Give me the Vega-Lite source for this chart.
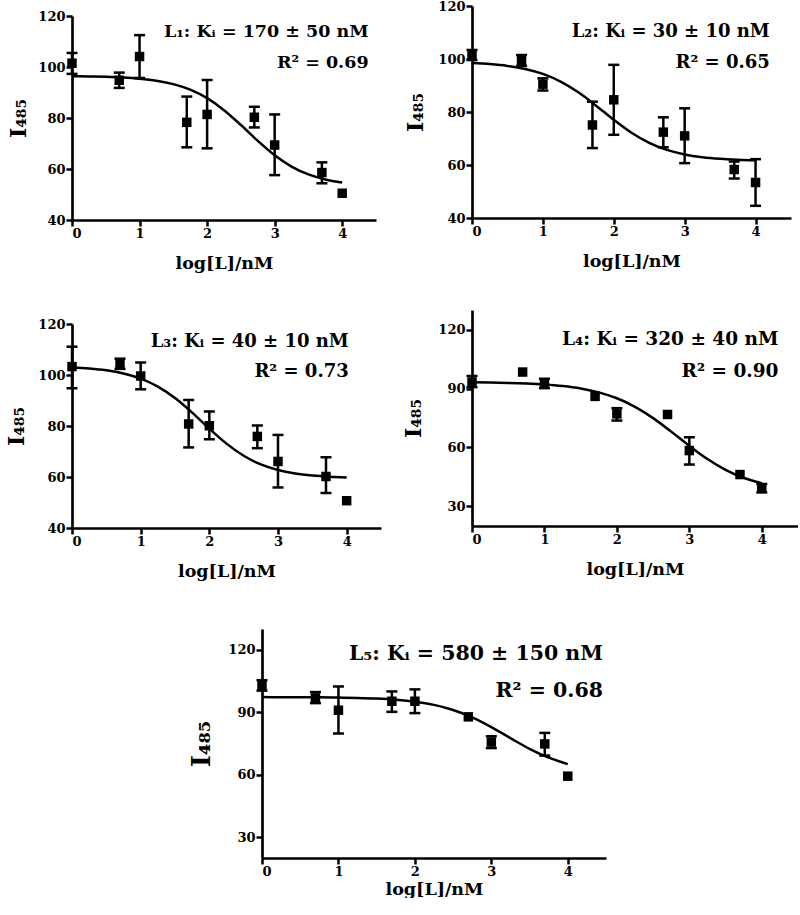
{
  "$schema": "https://vega.github.io/schema/vega-lite/v6.json",
  "background": "white",
  "padding": {"left": 5, "top": 0, "right": 0, "bottom": 0},
  "config": {
    "view": {"stroke": null},
    "font": "DejaVu Serif",
    "axis": {
      "grid": false,
      "domainColor": "black", "domainWidth": 2.7,
      "tickColor": "black", "tickWidth": 2.5, "tickSize": 6,
      "labelFont": "DejaVu Serif", "labelFontWeight": "bold", "labelFontSize": 13, "labelColor": "black", "labelPadding": 1,
      "titleFont": "DejaVu Serif", "titleFontWeight": "bold", "titleColor": "black"
    },
    "axisX": {"titleFontSize": 17.5, "titlePadding": 14},
    "axisY": {"titleFontSize": 22, "titlePadding": 5}
  },
  "datasets": {
    "pts": [
      {"panel": "L1", "x": 0, "y": 101.5, "lo": 97.3, "hi": 105.5},
      {"panel": "L1", "x": 0.699, "y": 94.8, "lo": 91.8, "hi": 97.8},
      {"panel": "L1", "x": 1, "y": 104.1, "lo": 95.7, "hi": 112.5},
      {"panel": "L1", "x": 1.699, "y": 78.3, "lo": 68.5, "hi": 88.4},
      {"panel": "L1", "x": 2, "y": 81.4, "lo": 68.1, "hi": 94.9},
      {"panel": "L1", "x": 2.699, "y": 80.3, "lo": 76.3, "hi": 84.4},
      {"panel": "L1", "x": 3, "y": 69.4, "lo": 57.6, "hi": 81.4},
      {"panel": "L1", "x": 3.699, "y": 58.6, "lo": 54.4, "hi": 62.6},
      {"panel": "L1", "x": 4, "y": 50.5},
      {"panel": "L2", "x": 0, "y": 101.5, "lo": 99.6, "hi": 103.4},
      {"panel": "L2", "x": 0.699, "y": 99.4, "lo": 97.4, "hi": 101.5},
      {"panel": "L2", "x": 1, "y": 90.5, "lo": 88.1, "hi": 92.7},
      {"panel": "L2", "x": 1.699, "y": 75.1, "lo": 66.4, "hi": 83.9},
      {"panel": "L2", "x": 2, "y": 84.6, "lo": 71.4, "hi": 97.8},
      {"panel": "L2", "x": 2.699, "y": 72.4, "lo": 66.7, "hi": 78.0},
      {"panel": "L2", "x": 3, "y": 71.0, "lo": 60.7, "hi": 81.4},
      {"panel": "L2", "x": 3.699, "y": 58.3, "lo": 54.9, "hi": 61.3},
      {"panel": "L2", "x": 4, "y": 53.4, "lo": 44.6, "hi": 62.2},
      {"panel": "L3", "x": 0, "y": 103.3, "lo": 94.8, "hi": 111.1},
      {"panel": "L3", "x": 0.699, "y": 104.6, "lo": 102.4, "hi": 106.4},
      {"panel": "L3", "x": 1, "y": 99.6, "lo": 94.4, "hi": 104.9},
      {"panel": "L3", "x": 1.699, "y": 80.8, "lo": 71.6, "hi": 90.2},
      {"panel": "L3", "x": 2, "y": 80.1, "lo": 74.8, "hi": 85.7},
      {"panel": "L3", "x": 2.699, "y": 75.9, "lo": 71.3, "hi": 80.2},
      {"panel": "L3", "x": 3, "y": 66.1, "lo": 55.9, "hi": 76.5},
      {"panel": "L3", "x": 3.699, "y": 60.2, "lo": 53.7, "hi": 67.7},
      {"panel": "L3", "x": 4, "y": 50.7},
      {"panel": "L4", "x": 0, "y": 93.3, "lo": 90.7, "hi": 96.4},
      {"panel": "L4", "x": 0.699, "y": 98.4},
      {"panel": "L4", "x": 1, "y": 92.8, "lo": 90.2, "hi": 95.0},
      {"panel": "L4", "x": 1.699, "y": 86.0},
      {"panel": "L4", "x": 2, "y": 77.1, "lo": 73.7, "hi": 80.0},
      {"panel": "L4", "x": 2.699, "y": 76.8},
      {"panel": "L4", "x": 3, "y": 58.4, "lo": 51.3, "hi": 65.2},
      {"panel": "L4", "x": 3.699, "y": 46.2},
      {"panel": "L4", "x": 4, "y": 39.4, "lo": 37.1, "hi": 41.4},
      {"panel": "L5", "x": 0, "y": 102.9, "lo": 100.4, "hi": 105.4},
      {"panel": "L5", "x": 0.699, "y": 96.9, "lo": 94.4, "hi": 99.7},
      {"panel": "L5", "x": 1, "y": 91.0, "lo": 79.8, "hi": 102.4},
      {"panel": "L5", "x": 1.699, "y": 95.3, "lo": 90.2, "hi": 100.0},
      {"panel": "L5", "x": 2, "y": 95.3, "lo": 89.6, "hi": 101.0},
      {"panel": "L5", "x": 2.699, "y": 87.8},
      {"panel": "L5", "x": 3, "y": 75.7, "lo": 72.8, "hi": 78.5},
      {"panel": "L5", "x": 3.699, "y": 74.8, "lo": 69.2, "hi": 80.1},
      {"panel": "L5", "x": 4, "y": 59.3}
    ],
    "fit": [
      {"panel": "L1", "x": 0, "y": 96.39}, {"panel": "L1", "x": 0.25, "y": 96.31}, {"panel": "L1", "x": 0.5, "y": 96.16}, {"panel": "L1", "x": 0.75, "y": 95.89},
      {"panel": "L1", "x": 1, "y": 95.43}, {"panel": "L1", "x": 1.25, "y": 94.64}, {"panel": "L1", "x": 1.5, "y": 93.30}, {"panel": "L1", "x": 1.75, "y": 91.11},
      {"panel": "L1", "x": 2, "y": 87.77}, {"panel": "L1", "x": 2.25, "y": 83.07}, {"panel": "L1", "x": 2.5, "y": 77.24}, {"panel": "L1", "x": 2.75, "y": 71.03},
      {"panel": "L1", "x": 3, "y": 65.39}, {"panel": "L1", "x": 3.25, "y": 60.96}, {"panel": "L1", "x": 3.5, "y": 57.86}, {"panel": "L1", "x": 3.75, "y": 55.88},
      {"panel": "L1", "x": 4, "y": 54.67},
      {"panel": "L2", "x": 0, "y": 98.48}, {"panel": "L2", "x": 0.25, "y": 98.08}, {"panel": "L2", "x": 0.5, "y": 97.40}, {"panel": "L2", "x": 0.75, "y": 96.24},
      {"panel": "L2", "x": 1, "y": 94.36}, {"panel": "L2", "x": 1.25, "y": 91.47}, {"panel": "L2", "x": 1.5, "y": 87.42}, {"panel": "L2", "x": 1.75, "y": 82.40},
      {"panel": "L2", "x": 2, "y": 77.05}, {"panel": "L2", "x": 2.25, "y": 72.18}, {"panel": "L2", "x": 2.5, "y": 68.36}, {"panel": "L2", "x": 2.75, "y": 65.69},
      {"panel": "L2", "x": 3, "y": 63.99}, {"panel": "L2", "x": 3.25, "y": 62.94}, {"panel": "L2", "x": 3.5, "y": 62.32}, {"panel": "L2", "x": 3.75, "y": 61.97},
      {"panel": "L2", "x": 4, "y": 61.76},
      {"panel": "L3", "x": 0, "y": 102.95}, {"panel": "L3", "x": 0.25, "y": 102.54}, {"panel": "L3", "x": 0.5, "y": 101.82}, {"panel": "L3", "x": 0.75, "y": 100.59},
      {"panel": "L3", "x": 1, "y": 98.58}, {"panel": "L3", "x": 1.25, "y": 95.45}, {"panel": "L3", "x": 1.5, "y": 90.97}, {"panel": "L3", "x": 1.75, "y": 85.26},
      {"panel": "L3", "x": 2, "y": 78.98}, {"panel": "L3", "x": 2.25, "y": 73.09}, {"panel": "L3", "x": 2.5, "y": 68.33}, {"panel": "L3", "x": 2.75, "y": 64.95},
      {"panel": "L3", "x": 3, "y": 62.74}, {"panel": "L3", "x": 3.25, "y": 61.38}, {"panel": "L3", "x": 3.5, "y": 60.58}, {"panel": "L3", "x": 3.75, "y": 60.11},
      {"panel": "L3", "x": 4, "y": 59.85},
      {"panel": "L4", "x": 0, "y": 93.15}, {"panel": "L4", "x": 0.25, "y": 93.04}, {"panel": "L4", "x": 0.5, "y": 92.87}, {"panel": "L4", "x": 0.75, "y": 92.58},
      {"panel": "L4", "x": 1, "y": 92.11}, {"panel": "L4", "x": 1.25, "y": 91.33}, {"panel": "L4", "x": 1.5, "y": 90.07}, {"panel": "L4", "x": 1.75, "y": 88.07},
      {"panel": "L4", "x": 2, "y": 85.05}, {"panel": "L4", "x": 2.25, "y": 80.70}, {"panel": "L4", "x": 2.5, "y": 74.93}, {"panel": "L4", "x": 2.75, "y": 68.06},
      {"panel": "L4", "x": 3, "y": 60.81}, {"panel": "L4", "x": 3.25, "y": 54.11}, {"panel": "L4", "x": 3.5, "y": 48.62}, {"panel": "L4", "x": 3.75, "y": 44.55},
      {"panel": "L4", "x": 4, "y": 41.76},
      {"panel": "L5", "x": 0, "y": 97.28}, {"panel": "L5", "x": 0.25, "y": 97.26}, {"panel": "L5", "x": 0.5, "y": 97.23}, {"panel": "L5", "x": 0.75, "y": 97.17},
      {"panel": "L5", "x": 1, "y": 97.07}, {"panel": "L5", "x": 1.25, "y": 96.89}, {"panel": "L5", "x": 1.5, "y": 96.57}, {"panel": "L5", "x": 1.75, "y": 96.02},
      {"panel": "L5", "x": 2, "y": 95.09}, {"panel": "L5", "x": 2.25, "y": 93.54}, {"panel": "L5", "x": 2.5, "y": 91.10}, {"panel": "L5", "x": 2.75, "y": 87.53},
      {"panel": "L5", "x": 3, "y": 82.87}, {"panel": "L5", "x": 3.25, "y": 77.58}, {"panel": "L5", "x": 3.5, "y": 72.45}, {"panel": "L5", "x": 3.75, "y": 68.20},
      {"panel": "L5", "x": 4, "y": 65.10}
    ]
  },
  "spacing": 46,
  "vconcat": [
    {
      "spacing": 21,
      "hconcat": [
        {
          "spacing": 0,
          "vconcat": [
            {"width": 1, "height": 1, "data": {"values": [{}]}, "mark": {"type": "point", "opacity": 0}},
            {
              "spacing": 46,
              "vconcat": [
                {
                  "width": 304, "height": 204,
                  "layer": [
                    {
                      "encoding": {"x": {"field": "x", "type": "quantitative", "scale": {"domain": [0, 4.5], "nice": false, "zero": false}, "axis": {"values": [0, 1, 2, 3, 4], "format": "d", "title": "log[L]/nM"}}},
                      "layer": [
                        {"data": {"name": "fit"}, "transform": [{"filter": "datum.panel == 'L1'"}],
                         "mark": {"type": "line", "color": "black", "strokeWidth": 2.5, "interpolate": "monotone"},
                         "encoding": {"y": {"field": "y", "type": "quantitative", "scale": {"domain": [40, 120], "nice": false, "zero": false}, "axis": {"values": [40, 60, 80, 100, 120], "format": "d", "title": "I₄₈₅", "titlePadding": 7}}}},
                        {"data": {"name": "pts"}, "transform": [{"filter": "datum.panel == 'L1'"}],
                         "mark": {"type": "rule", "color": "black", "strokeWidth": 2.5},
                         "encoding": {"y": {"field": "lo", "type": "quantitative", "scale": {"domain": [40, 120], "nice": false, "zero": false}, "axis": {"values": [40, 60, 80, 100, 120], "format": "d", "title": "I₄₈₅", "titlePadding": 7}}, "y2": {"field": "hi"}}},
                        {"data": {"name": "pts"}, "transform": [{"filter": "datum.panel == 'L1'"}],
                         "mark": {"type": "tick", "orient": "horizontal", "size": 11, "thickness": 2.5, "color": "black", "opacity": 1},
                         "encoding": {"y": {"field": "hi", "type": "quantitative", "scale": {"domain": [40, 120], "nice": false, "zero": false}, "axis": {"values": [40, 60, 80, 100, 120], "format": "d", "title": "I₄₈₅", "titlePadding": 7}}}},
                        {"data": {"name": "pts"}, "transform": [{"filter": "datum.panel == 'L1'"}],
                         "mark": {"type": "tick", "orient": "horizontal", "size": 11, "thickness": 2.5, "color": "black", "opacity": 1},
                         "encoding": {"y": {"field": "lo", "type": "quantitative", "scale": {"domain": [40, 120], "nice": false, "zero": false}, "axis": {"values": [40, 60, 80, 100, 120], "format": "d", "title": "I₄₈₅", "titlePadding": 7}}}},
                        {"data": {"name": "pts"}, "transform": [{"filter": "datum.panel == 'L1'"}],
                         "mark": {"type": "square", "filled": true, "size": 90, "color": "black", "opacity": 1},
                         "encoding": {"y": {"field": "y", "type": "quantitative", "scale": {"domain": [40, 120], "nice": false, "zero": false}, "axis": {"values": [40, 60, 80, 100, 120], "format": "d", "title": "I₄₈₅", "titlePadding": 7}}}}
                      ]
                    },
                    {"data": {"values": [{}]},
                     "mark": {"type": "text", "align": "right", "baseline": "alphabetic", "font": "DejaVu Serif", "fontWeight": "bold", "fontSize": 17.5, "lineHeight": 31, "color": "black"},
                     "encoding": {
                       "x": {"datum": 4.39, "type": "quantitative", "scale": {"domain": [0, 4.5], "nice": false, "zero": false}, "axis": {"values": [0, 1, 2, 3, 4], "format": "d", "title": "log[L]/nM"}},
                       "y": {"datum": 111.6, "type": "quantitative", "scale": {"domain": [40, 120], "nice": false, "zero": false}, "axis": {"values": [40, 60, 80, 100, 120], "format": "d", "title": "I₄₈₅", "titlePadding": 7}},
                       "text": {"value": ["L₁: Kᵢ = 170 ± 50 nM", "R² = 0.69"]}}}
                  ]
                },
                {
                  "width": 309, "height": 204,
                  "layer": [
                    {
                      "encoding": {"x": {"field": "x", "type": "quantitative", "scale": {"domain": [0, 4.5], "nice": false, "zero": false}, "axis": {"values": [0, 1, 2, 3, 4], "format": "d", "title": "log[L]/nM"}}},
                      "layer": [
                        {"data": {"name": "fit"}, "transform": [{"filter": "datum.panel == 'L3'"}],
                         "mark": {"type": "line", "color": "black", "strokeWidth": 2.5, "interpolate": "monotone"},
                         "encoding": {"y": {"field": "y", "type": "quantitative", "scale": {"domain": [40, 120], "nice": false, "zero": false}, "axis": {"values": [40, 60, 80, 100, 120], "format": "d", "title": "I₄₈₅", "titlePadding": 9}}}},
                        {"data": {"name": "pts"}, "transform": [{"filter": "datum.panel == 'L3'"}],
                         "mark": {"type": "rule", "color": "black", "strokeWidth": 2.5},
                         "encoding": {"y": {"field": "lo", "type": "quantitative", "scale": {"domain": [40, 120], "nice": false, "zero": false}, "axis": {"values": [40, 60, 80, 100, 120], "format": "d", "title": "I₄₈₅", "titlePadding": 9}}, "y2": {"field": "hi"}}},
                        {"data": {"name": "pts"}, "transform": [{"filter": "datum.panel == 'L3'"}],
                         "mark": {"type": "tick", "orient": "horizontal", "size": 11, "thickness": 2.5, "color": "black", "opacity": 1},
                         "encoding": {"y": {"field": "hi", "type": "quantitative", "scale": {"domain": [40, 120], "nice": false, "zero": false}, "axis": {"values": [40, 60, 80, 100, 120], "format": "d", "title": "I₄₈₅", "titlePadding": 9}}}},
                        {"data": {"name": "pts"}, "transform": [{"filter": "datum.panel == 'L3'"}],
                         "mark": {"type": "tick", "orient": "horizontal", "size": 11, "thickness": 2.5, "color": "black", "opacity": 1},
                         "encoding": {"y": {"field": "lo", "type": "quantitative", "scale": {"domain": [40, 120], "nice": false, "zero": false}, "axis": {"values": [40, 60, 80, 100, 120], "format": "d", "title": "I₄₈₅", "titlePadding": 9}}}},
                        {"data": {"name": "pts"}, "transform": [{"filter": "datum.panel == 'L3'"}],
                         "mark": {"type": "square", "filled": true, "size": 90, "color": "black", "opacity": 1},
                         "encoding": {"y": {"field": "y", "type": "quantitative", "scale": {"domain": [40, 120], "nice": false, "zero": false}, "axis": {"values": [40, 60, 80, 100, 120], "format": "d", "title": "I₄₈₅", "titlePadding": 9}}}}
                      ]
                    },
                    {"data": {"values": [{}]},
                     "mark": {"type": "text", "align": "right", "baseline": "alphabetic", "font": "DejaVu Serif", "fontWeight": "bold", "fontSize": 18, "lineHeight": 30.6, "color": "black"},
                     "encoding": {
                       "x": {"datum": 4.03, "type": "quantitative", "scale": {"domain": [0, 4.5], "nice": false, "zero": false}, "axis": {"values": [0, 1, 2, 3, 4], "format": "d", "title": "log[L]/nM"}},
                       "y": {"datum": 111.1, "type": "quantitative", "scale": {"domain": [40, 120], "nice": false, "zero": false}, "axis": {"values": [40, 60, 80, 100, 120], "format": "d", "title": "I₄₈₅", "titlePadding": 9}},
                       "text": {"value": ["L₃: Kᵢ = 40 ± 10 nM", "R² = 0.73"]}}}
                  ]
                }
              ]
            }
          ]
        },
        {
          "spacing": 40,
          "vconcat": [
            {
              "width": 319, "height": 212,
              "layer": [
                {
                  "encoding": {"x": {"field": "x", "type": "quantitative", "scale": {"domain": [0, 4.5], "nice": false, "zero": false}, "axis": {"values": [0, 1, 2, 3, 4], "format": "d", "title": "log[L]/nM"}}},
                  "layer": [
                    {"data": {"name": "fit"}, "transform": [{"filter": "datum.panel == 'L2'"}],
                     "mark": {"type": "line", "color": "black", "strokeWidth": 2.5, "interpolate": "monotone"},
                     "encoding": {"y": {"field": "y", "type": "quantitative", "scale": {"domain": [40, 120], "nice": false, "zero": false}, "axis": {"values": [40, 60, 80, 100, 120], "format": "d", "title": "I₄₈₅", "titlePadding": 10}}}},
                    {"data": {"name": "pts"}, "transform": [{"filter": "datum.panel == 'L2'"}],
                     "mark": {"type": "rule", "color": "black", "strokeWidth": 2.5},
                     "encoding": {"y": {"field": "lo", "type": "quantitative", "scale": {"domain": [40, 120], "nice": false, "zero": false}, "axis": {"values": [40, 60, 80, 100, 120], "format": "d", "title": "I₄₈₅", "titlePadding": 10}}, "y2": {"field": "hi"}}},
                    {"data": {"name": "pts"}, "transform": [{"filter": "datum.panel == 'L2'"}],
                     "mark": {"type": "tick", "orient": "horizontal", "size": 11, "thickness": 2.5, "color": "black", "opacity": 1},
                     "encoding": {"y": {"field": "hi", "type": "quantitative", "scale": {"domain": [40, 120], "nice": false, "zero": false}, "axis": {"values": [40, 60, 80, 100, 120], "format": "d", "title": "I₄₈₅", "titlePadding": 10}}}},
                    {"data": {"name": "pts"}, "transform": [{"filter": "datum.panel == 'L2'"}],
                     "mark": {"type": "tick", "orient": "horizontal", "size": 11, "thickness": 2.5, "color": "black", "opacity": 1},
                     "encoding": {"y": {"field": "lo", "type": "quantitative", "scale": {"domain": [40, 120], "nice": false, "zero": false}, "axis": {"values": [40, 60, 80, 100, 120], "format": "d", "title": "I₄₈₅", "titlePadding": 10}}}},
                    {"data": {"name": "pts"}, "transform": [{"filter": "datum.panel == 'L2'"}],
                     "mark": {"type": "square", "filled": true, "size": 90, "color": "black", "opacity": 1},
                     "encoding": {"y": {"field": "y", "type": "quantitative", "scale": {"domain": [40, 120], "nice": false, "zero": false}, "axis": {"values": [40, 60, 80, 100, 120], "format": "d", "title": "I₄₈₅", "titlePadding": 10}}}}
                  ]
                },
                {"data": {"values": [{}]},
                 "mark": {"type": "text", "align": "right", "baseline": "alphabetic", "font": "DejaVu Serif", "fontWeight": "bold", "fontSize": 18, "lineHeight": 31, "color": "black"},
                 "encoding": {
                   "x": {"datum": 4.2, "type": "quantitative", "scale": {"domain": [0, 4.5], "nice": false, "zero": false}, "axis": {"values": [0, 1, 2, 3, 4], "format": "d", "title": "log[L]/nM"}},
                   "y": {"datum": 108.3, "type": "quantitative", "scale": {"domain": [40, 120], "nice": false, "zero": false}, "axis": {"values": [40, 60, 80, 100, 120], "format": "d", "title": "I₄₈₅", "titlePadding": 10}},
                   "text": {"value": ["L₂: Kᵢ = 30 ± 10 nM", "R² = 0.65"]}}}
              ]
            },
            {
              "width": 326, "height": 216,
              "layer": [
                {
                  "encoding": {"x": {"field": "x", "type": "quantitative", "scale": {"domain": [0, 4.5], "nice": false, "zero": false}, "axis": {"values": [0, 1, 2, 3, 4], "format": "d", "title": "log[L]/nM"}}},
                  "layer": [
                    {"data": {"name": "fit"}, "transform": [{"filter": "datum.panel == 'L4'"}],
                     "mark": {"type": "line", "color": "black", "strokeWidth": 2.5, "interpolate": "monotone"},
                     "encoding": {"y": {"field": "y", "type": "quantitative", "scale": {"domain": [20, 130], "nice": false, "zero": false}, "axis": {"values": [30, 60, 90, 120], "format": "d", "title": "I₄₈₅", "titlePadding": 12}}}},
                    {"data": {"name": "pts"}, "transform": [{"filter": "datum.panel == 'L4'"}],
                     "mark": {"type": "rule", "color": "black", "strokeWidth": 2.5},
                     "encoding": {"y": {"field": "lo", "type": "quantitative", "scale": {"domain": [20, 130], "nice": false, "zero": false}, "axis": {"values": [30, 60, 90, 120], "format": "d", "title": "I₄₈₅", "titlePadding": 12}}, "y2": {"field": "hi"}}},
                    {"data": {"name": "pts"}, "transform": [{"filter": "datum.panel == 'L4'"}],
                     "mark": {"type": "tick", "orient": "horizontal", "size": 11, "thickness": 2.5, "color": "black", "opacity": 1},
                     "encoding": {"y": {"field": "hi", "type": "quantitative", "scale": {"domain": [20, 130], "nice": false, "zero": false}, "axis": {"values": [30, 60, 90, 120], "format": "d", "title": "I₄₈₅", "titlePadding": 12}}}},
                    {"data": {"name": "pts"}, "transform": [{"filter": "datum.panel == 'L4'"}],
                     "mark": {"type": "tick", "orient": "horizontal", "size": 11, "thickness": 2.5, "color": "black", "opacity": 1},
                     "encoding": {"y": {"field": "lo", "type": "quantitative", "scale": {"domain": [20, 130], "nice": false, "zero": false}, "axis": {"values": [30, 60, 90, 120], "format": "d", "title": "I₄₈₅", "titlePadding": 12}}}},
                    {"data": {"name": "pts"}, "transform": [{"filter": "datum.panel == 'L4'"}],
                     "mark": {"type": "square", "filled": true, "size": 90, "color": "black", "opacity": 1},
                     "encoding": {"y": {"field": "y", "type": "quantitative", "scale": {"domain": [20, 130], "nice": false, "zero": false}, "axis": {"values": [30, 60, 90, 120], "format": "d", "title": "I₄₈₅", "titlePadding": 12}}}}
                  ]
                },
                {"data": {"values": [{}]},
                 "mark": {"type": "text", "align": "right", "baseline": "alphabetic", "font": "DejaVu Serif", "fontWeight": "bold", "fontSize": 18.5, "lineHeight": 31.7, "color": "black"},
                 "encoding": {
                   "x": {"datum": 4.23, "type": "quantitative", "scale": {"domain": [0, 4.5], "nice": false, "zero": false}, "axis": {"values": [0, 1, 2, 3, 4], "format": "d", "title": "log[L]/nM"}},
                   "y": {"datum": 112.2, "type": "quantitative", "scale": {"domain": [20, 130], "nice": false, "zero": false}, "axis": {"values": [30, 60, 90, 120], "format": "d", "title": "I₄₈₅", "titlePadding": 12}},
                   "text": {"value": ["L₄: Kᵢ = 320 ± 40 nM", "R² = 0.90"]}}}
              ]
            }
          ]
        }
      ]
    },
    {
      "spacing": 112,
      "hconcat": [
        {"width": 1, "height": 1, "data": {"values": [{}]}, "mark": {"type": "point", "opacity": 0}},
        {
          "width": 344, "height": 229,
          "layer": [
            {
              "encoding": {"x": {"field": "x", "type": "quantitative", "scale": {"domain": [0, 4.5], "nice": false, "zero": false}, "axis": {"values": [0, 1, 2, 3, 4], "format": "d", "title": "log[L]/nM", "titlePadding": 2}}},
              "layer": [
                {"data": {"name": "fit"}, "transform": [{"filter": "datum.panel == 'L5'"}],
                 "mark": {"type": "line", "color": "black", "strokeWidth": 2.5, "interpolate": "monotone"},
                 "encoding": {"y": {"field": "y", "type": "quantitative", "scale": {"domain": [20, 130], "nice": false, "zero": false}, "axis": {"values": [30, 60, 90, 120], "format": "d", "title": "I₄₈₅", "titleFontSize": 26, "titlePadding": 13}}}},
                {"data": {"name": "pts"}, "transform": [{"filter": "datum.panel == 'L5'"}],
                 "mark": {"type": "rule", "color": "black", "strokeWidth": 2.5},
                 "encoding": {"y": {"field": "lo", "type": "quantitative", "scale": {"domain": [20, 130], "nice": false, "zero": false}, "axis": {"values": [30, 60, 90, 120], "format": "d", "title": "I₄₈₅", "titleFontSize": 26, "titlePadding": 13}}, "y2": {"field": "hi"}}},
                {"data": {"name": "pts"}, "transform": [{"filter": "datum.panel == 'L5'"}],
                 "mark": {"type": "tick", "orient": "horizontal", "size": 11, "thickness": 2.5, "color": "black", "opacity": 1},
                 "encoding": {"y": {"field": "hi", "type": "quantitative", "scale": {"domain": [20, 130], "nice": false, "zero": false}, "axis": {"values": [30, 60, 90, 120], "format": "d", "title": "I₄₈₅", "titleFontSize": 26, "titlePadding": 13}}}},
                {"data": {"name": "pts"}, "transform": [{"filter": "datum.panel == 'L5'"}],
                 "mark": {"type": "tick", "orient": "horizontal", "size": 11, "thickness": 2.5, "color": "black", "opacity": 1},
                 "encoding": {"y": {"field": "lo", "type": "quantitative", "scale": {"domain": [20, 130], "nice": false, "zero": false}, "axis": {"values": [30, 60, 90, 120], "format": "d", "title": "I₄₈₅", "titleFontSize": 26, "titlePadding": 13}}}},
                {"data": {"name": "pts"}, "transform": [{"filter": "datum.panel == 'L5'"}],
                 "mark": {"type": "square", "filled": true, "size": 90, "color": "black", "opacity": 1},
                 "encoding": {"y": {"field": "y", "type": "quantitative", "scale": {"domain": [20, 130], "nice": false, "zero": false}, "axis": {"values": [30, 60, 90, 120], "format": "d", "title": "I₄₈₅", "titleFontSize": 26, "titlePadding": 13}}}}
              ]
            },
            {"data": {"values": [{}]},
             "mark": {"type": "text", "align": "right", "baseline": "alphabetic", "font": "DejaVu Serif", "fontWeight": "bold", "fontSize": 20.5, "lineHeight": 36.7, "color": "black"},
             "encoding": {
               "x": {"datum": 4.46, "type": "quantitative", "scale": {"domain": [0, 4.5], "nice": false, "zero": false}, "axis": {"values": [0, 1, 2, 3, 4], "format": "d", "title": "log[L]/nM", "titlePadding": 2}},
               "y": {"datum": 115.1, "type": "quantitative", "scale": {"domain": [20, 130], "nice": false, "zero": false}, "axis": {"values": [30, 60, 90, 120], "format": "d", "title": "I₄₈₅", "titleFontSize": 26, "titlePadding": 13}},
               "text": {"value": ["L₅: Kᵢ = 580 ± 150 nM", "R² = 0.68"]}}}
          ]
        }
      ]
    }
  ]
}
